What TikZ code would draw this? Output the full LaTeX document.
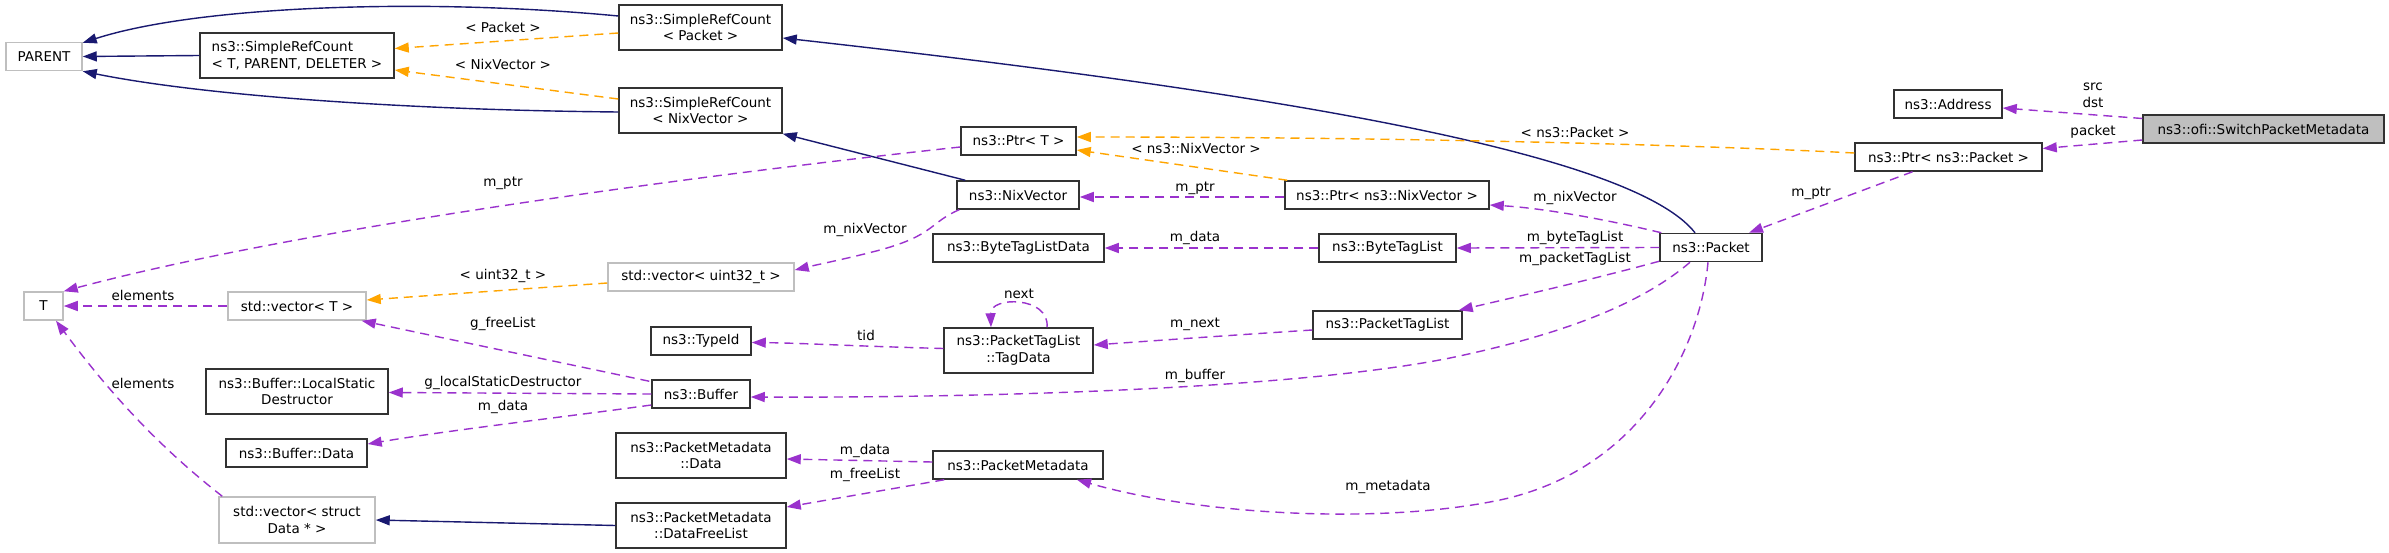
\documentclass[tikz,border=0pt]{standalone}
\usepackage{fontspec}
\setmainfont{DejaVu Sans}
\usetikzlibrary{arrows.meta,calc}
\definecolor{navy}{RGB}{25,25,112}
\definecolor{orng}{RGB}{255,165,0}
\definecolor{purp}{RGB}{154,50,205}
\definecolor{gry}{RGB}{191,191,191}
\definecolor{bord}{RGB}{50,50,50}
\begin{document}
\begin{tikzpicture}[x=1pt,y=-1pt,
  font=\fontsize{13.5}{16.7}\selectfont,
  box/.style={draw=bord, line width=1.5pt, inner sep=0pt, minimum height=28pt, align=center},
  gbox/.style={box, draw=gry},
  dbox/.style={box, minimum height=45pt},
  tipA/.style={-{Triangle[length=14pt,width=10pt]}},
  inh/.style={draw=navy, line width=1.4pt, tipA},
  tpl/.style={draw=orng, line width=1.4pt, dash pattern=on 9pt off 6pt, tipA},
  mem/.style={draw=purp, line width=1.4pt, dash pattern=on 9pt off 6pt, tipA},
  lbl/.style={inner sep=0pt, align=center}]
\fill[white] (0,0) rectangle (2389,553);
\useasboundingbox (0,0) rectangle (2389,553);

% nodes
\node[gbox, minimum width=76pt] (parent) at (44,56.5) {PARENT};
\node[dbox, minimum width=194pt, align=left] (srcT) at (297,55.5) {ns3::SimpleRefCount\\< T, PARENT, DELETER >};
\node[dbox, minimum width=163pt] (srcP) at (700.5,27.5) {ns3::SimpleRefCount\\< Packet >};
\node[dbox, minimum width=163pt] (srcN) at (700.5,110.5) {ns3::SimpleRefCount\\< NixVector >};
\node[box, minimum width=115pt] (ptrT) at (1018.5,141) {ns3::Ptr< T >};
\node[box, minimum width=122pt] (nix) at (1018,195) {ns3::NixVector};
\node[box, minimum width=204pt] (ptrN) at (1387,195) {ns3::Ptr< ns3::NixVector >};
\node[box, minimum width=171pt] (btld) at (1018.5,248) {ns3::ByteTagListData};
\node[box, minimum width=137pt] (btl) at (1387.5,248) {ns3::ByteTagList};
\node[box, minimum width=102pt] (packet) at (1711,247.5) {ns3::Packet};
\node[box, minimum width=108pt] (address) at (1948,104) {ns3::Address};
\node[box, minimum width=241pt, fill=gry] (switch) at (2263.5,129) {ns3::ofi::SwitchPacketMetadata};
\node[box, minimum width=187pt] (ptrP) at (1948.5,157) {ns3::Ptr< ns3::Packet >};
\node[gbox, minimum width=39pt] (T) at (43.5,306) {T};
\node[gbox, minimum width=138pt] (vecT) at (297,306) {std::vector< T >};
\node[gbox, minimum width=186pt] (vecU) at (701,277) {std::vector< uint32\_t >};
\node[box, minimum width=100pt] (typeid) at (701,341) {ns3::TypeId};
\node[dbox, minimum width=149pt] (tagdata) at (1018.5,350.5) {ns3::PacketTagList\\::TagData};
\node[box, minimum width=149pt] (ptl) at (1387.5,325) {ns3::PacketTagList};
\node[dbox, minimum width=182pt] (lsd) at (297,391.5) {ns3::Buffer::LocalStatic\\Destructor};
\node[box, minimum width=98pt] (buffer) at (701,394) {ns3::Buffer};
\node[box, minimum width=141pt] (bdata) at (296.5,453) {ns3::Buffer::Data};
\node[dbox, minimum width=170pt] (pmdata) at (701,455.5) {ns3::PacketMetadata\\::Data};
\node[box, minimum width=170pt] (pm) at (1018,465) {ns3::PacketMetadata};
\node[gbox, minimum height=46pt, minimum width=156pt] (vecD) at (297,520) {std::vector< struct\\Data * >};
\node[dbox, minimum width=170pt] (freelist) at (701,525.5) {ns3::PacketMetadata\\::DataFreeList};

% inheritance
\draw[inh] (srcT.west) -- (parent.east);
\draw[inh] ($(srcP.west)+(0,-11.5)$) .. controls (430,-2) and (200,5) .. ($(parent.north east)+(0,1)$);
\draw[inh] ($(srcN.west)+(0,1.5)$) .. controls (400,110) and (200,95) .. (parent.south east);
\draw[inh] ($(packet.north)+(-16,0)$) .. controls (1630,150) and (1250,90) .. ($(srcP.east)+(0,10.5)$);
\draw[inh] ($(nix.north west)+(9,0)$) -- (srcN.south east);
\draw[inh] (freelist.west) -- (vecD.east);

% template instances
\draw[tpl] ($(srcP.west)+(0,5.5)$) -- ($(srcT.east)+(0,-7)$);
\draw[tpl] ($(srcN.west)+(0,-11.5)$) -- ($(srcT.east)+(0,14.5)$);
\draw[tpl] ($(ptrP.west)+(0,-4)$) .. controls (1700,145) and (1400,137) .. ($(ptrT.east)+(0,-4)$);
\draw[tpl] ($(ptrN.north west)+(3,0)$) -- ($(ptrT.east)+(0,9)$);
\draw[tpl] ($(vecU.west)+(0,6)$) -- ($(vecT.east)+(0,-6)$);

% members
\draw[mem] ($(switch.west)+(0,-10.5)$) -- ($(address.east)+(0,4)$);
\draw[mem] ($(switch.west)+(0,11)$) -- ($(ptrP.east)+(0,-8.5)$);
\draw[mem] ($(ptrP.south)+(-36,0)$) -- ($(packet.north)+(38,0)$);
\draw[mem] ($(ptrT.west)+(0,6)$) .. controls (700,175) and (300,228) .. (T.north east);
\draw[mem] ($(nix.south west)+(3,0)$) .. controls (930,222) and (935,235) .. (880,250) .. controls (850,258) and (820,264) .. ($(vecU.east)+(0,-7)$);
\draw[mem] ($(ptrN.west)+(0,2)$) -- ($(nix.east)+(0,2)$);
\draw[mem] ($(packet.north west)+(2,0)$) .. controls (1600,218) and (1540,208) .. ($(ptrN.east)+(0,10)$);
\draw[mem] (btl.west) -- (btld.east);
\draw[mem] (packet.west) -- (btl.east);
\draw[mem] ($(packet.south west)+(0,-1)$) .. controls (1590,280) and (1520,296) .. ($(ptl.north east)+(-4,0)$);
\draw[mem] ($(ptl.west)+(0,5)$) .. controls (1220,336) and (1150,341) .. ($(tagdata.east)+(0,-5.5)$);
\draw[mem] ($(tagdata.north)+(28.5,0)$) .. controls (1050,296) and (990,296) .. ($(tagdata.north)+(-27.5,0)$);
\draw[mem] ($(tagdata.west)+(0,-2)$) .. controls (850,346) and (800,343) .. ($(typeid.east)+(0,1.5)$);
\draw[mem] ($(packet.south)+(-21,0)$) .. controls (1640,305) and (1560,335) .. (1450,358) .. controls (1300,388) and (1000,398) .. ($(buffer.east)+(0,3)$);
\draw[mem] ($(packet.south)+(-3,0)$) .. controls (1700,350) and (1640,470) .. (1500,500) .. controls (1380,525) and (1200,515) .. ($(pm.south)+(59,0)$);
\draw[mem] ($(pm.west)+(0,-3)$) -- ($(pmdata.east)+(0,3.5)$);
\draw[mem] ($(pm.south west)+(12,0)$) -- ($(freelist.east)+(0,-18.5)$);
\draw[mem] ($(buffer.north west)+(-2,2)$) -- ($(vecT.south east)+(-5,0)$);
\draw[mem] (buffer.west) -- ($(lsd.east)+(0,1)$);
\draw[mem] ($(buffer.west)+(0,11)$) .. controls (580,415) and (450,430) .. ($(bdata.east)+(0,-9)$);
\draw[mem] (vecT.west) -- (T.east);
\draw[mem] ($(vecD.north west)+(4,0)$) .. controls (150,440) and (100,380) .. ($(T.south)+(12.5,0)$);

% labels
\node[lbl] (l1) at (503,27) {< Packet >};
\node[lbl] (l2) at (503,64) {< NixVector >};
\node[lbl] (l3) at (503,183) {m\_ptr};
\node[lbl] (l4) at (503,276) {< uint32\_t >};
\node[lbl] (l5) at (143,295) {elements};
\node[lbl] (l6) at (143,383) {elements};
\node[lbl] (l7) at (503,324) {g\_freeList};
\node[lbl] (l8) at (503,383) {g\_localStaticDestructor};
\node[lbl] (l9) at (503,407) {m\_data};
\node[lbl] (l10) at (865,230) {m\_nixVector};
\node[lbl] (l11) at (1196,148) {< ns3::NixVector >};
\node[lbl] (l12) at (1195,188) {m\_ptr};
\node[lbl] (l13) at (1195,238) {m\_data};
\node[lbl] (l14) at (1019,294) {next};
\node[lbl] (l15) at (866,335) {tid};
\node[lbl] (l16) at (1195,324) {m\_next};
\node[lbl] (l17) at (1195,376) {m\_buffer};
\node[lbl] (l18) at (1575,132) {< ns3::Packet >};
\node[lbl] (l19) at (1575,198) {m\_nixVector};
\node[lbl] (l20) at (1575,238) {m\_byteTagList};
\node[lbl] (l21) at (1575,259) {m\_packetTagList};
\node[lbl] (l22) at (1811,193) {m\_ptr};
\node[lbl] (l23) at (2093,95.5) {src\\dst};
\node[lbl] (l25) at (2093,132) {packet};
\node[lbl] (l26) at (865,451) {m\_data};
\node[lbl] (l27) at (865,475) {m\_freeList};
\node[lbl] (l28) at (1388,487) {m\_metadata};
\end{tikzpicture}
\end{document}
